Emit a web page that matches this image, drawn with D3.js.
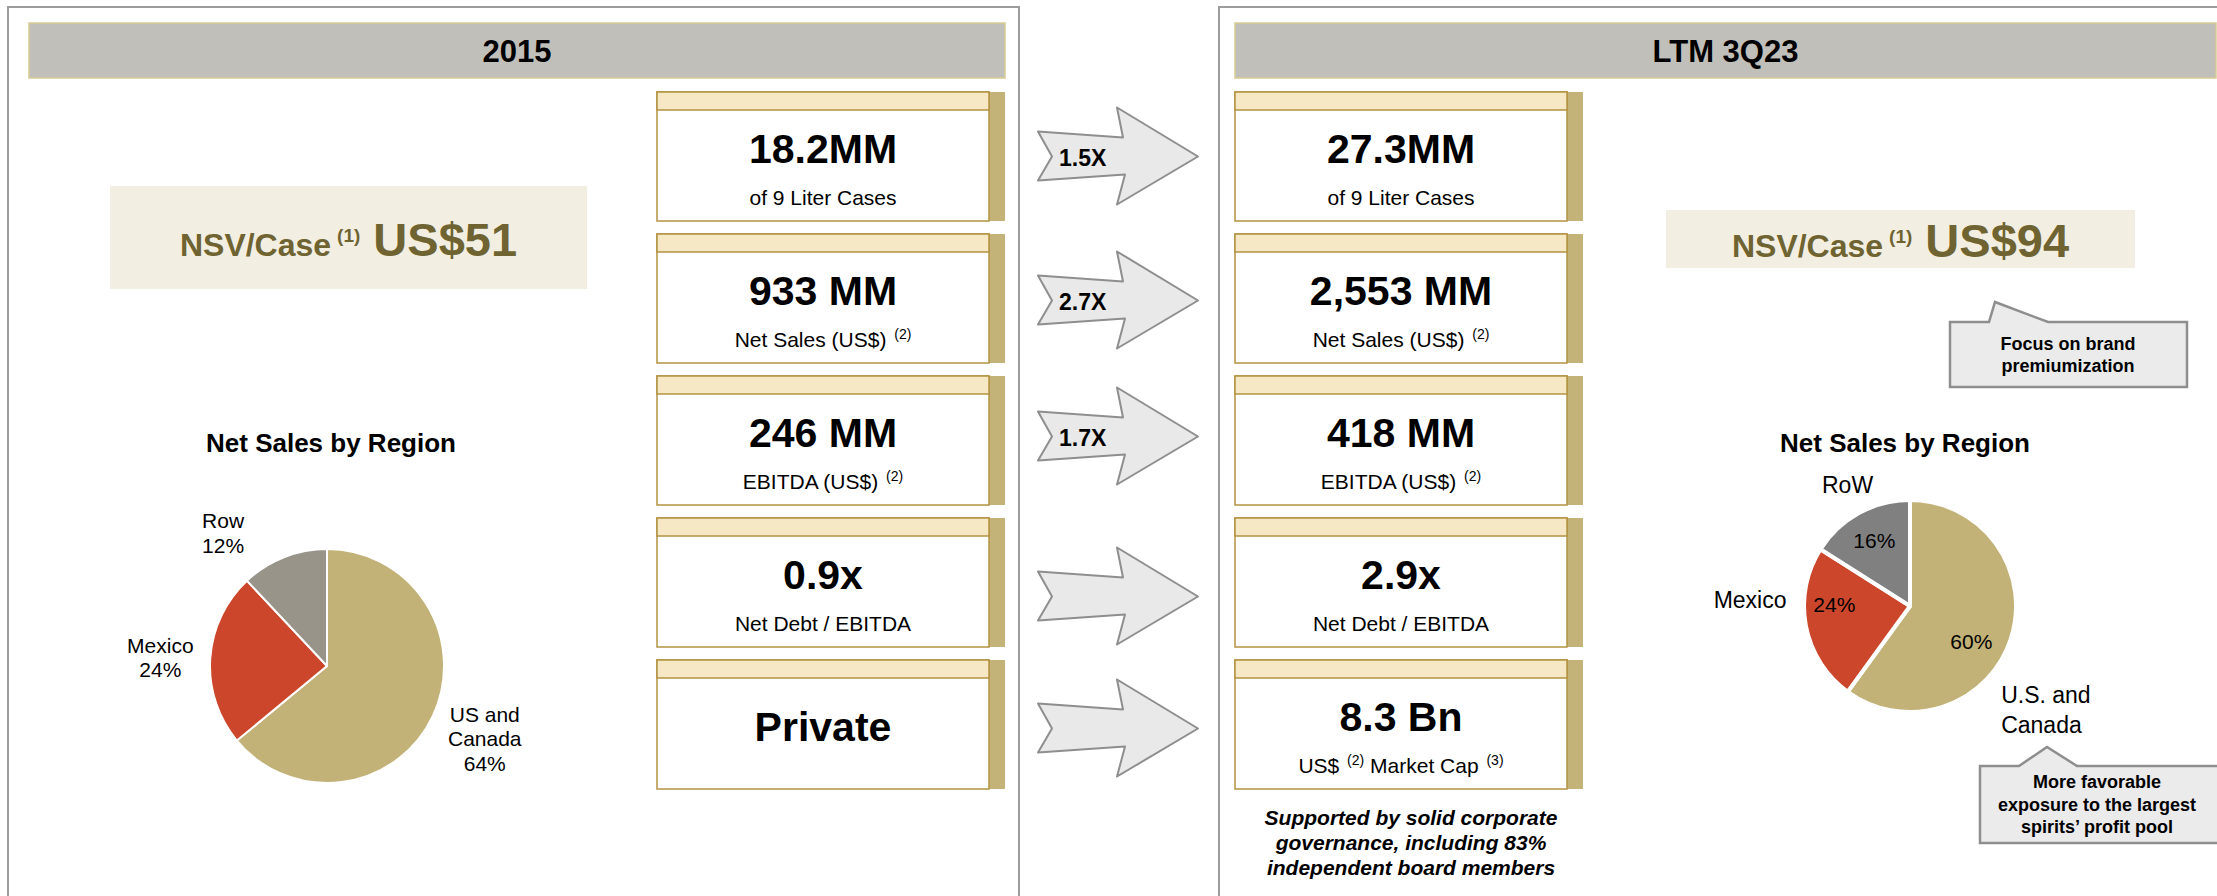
<!DOCTYPE html>
<html>
<head>
<meta charset="utf-8">
<script src="https://cdn.jsdelivr.net/npm/d3@7"></script>
<style>
  body { margin: 0; background: #fff; }
  svg { display: block; font-family: "Liberation Sans", Arial, sans-serif; }
  text { white-space: pre; }
</style>
</head>
<body>
<svg id="chart"></svg>
<script>
// ---- data ----
const periods = ["2015", "LTM 3Q23"];
const nsvPerCase = ["US$51", "US$94"];
const values2015 = ["18.2MM", "933 MM", "246 MM", "0.9x", "Private"];
const valuesLTM = ["27.3MM", "2,553 MM", "418 MM", "2.9x", "8.3 Bn"];
const captions2015 = ["of 9 Liter Cases", "Net Sales (US$) {2}", "EBITDA (US$) {2}", "Net Debt / EBITDA", ""];
const captionsLTM = ["of 9 Liter Cases", "Net Sales (US$) {2}", "EBITDA (US$) {2}", "Net Debt / EBITDA", "US$ {2} Market Cap {3}"];
const multiples = ["1.5X", "2.7X", "1.7X", "", ""];
const regions2015 = ["US and Canada", "Mexico", "Row"];
const shares2015 = [64, 24, 12];
const regionsLTM = ["U.S. and Canada", "Mexico", "RoW"];
const sharesLTM = [60, 24, 16];
const callouts = [
  ["Focus on brand", "premiumization"],
  ["More favorable", "exposure to the largest", "spirits\u2019 profit pool"]
];
const governanceNote = ["Supported by solid corporate", "governance, including 83%", "independent board members"];

// ---- look ----
const W = 2217, H = 896;
const C = {
  olive: "#6f6331", gold: "#b39342", khaki: "#c3b378", beige: "#f6e8c5",
  header: "#c0bfba", headerLine: "#d8cb94", panelLine: "#9c9c9c", nsvFill: "#f2efe2",
  arrowFill: "#e9e9e9", arrowLine: "#8e8e8e", calloutFill: "#ebebeb", calloutLine: "#8e8e8e"
};
const pieColors = [["#c2b277", "#cc462b", "#98948a"], ["#c2b277", "#cc462b", "#808080"]];

const svg = d3.select("#chart").attr("width", W).attr("height", H);

// rows of metric boxes
const y = d3.scaleBand().domain(d3.range(values2015.length)).range([92, 789]).paddingInner(13 / 142);
const boxW = 332, sideW = 16, stripH = 18;

const panels = [
  { border: [8, 1019], header: [29, 1005], boxX: 657, nsv: [110, 186, 477, 103], nsvBase: 256,
    values: values2015, captions: captions2015,
    pie: { cx: 327, cy: 666, r: 117, gap: 2, title: 331, regions: regions2015, shares: shares2015,
           outerR: 160, nudge: [[13, 4], [-7, 1], [-45, 15]], anchor: ["middle", "middle", "middle"],
           lh: 24.5, withPct: true } },
  { border: [1219, 2230], header: [1235, 2216], boxX: 1235, nsv: [1666, 210, 469, 58], nsvBase: 257,
    values: valuesLTM, captions: captionsLTM,
    pie: { cx: 1910, cy: 606, r: 106, gap: 4, title: 1905, regions: regionsLTM, shares: sharesLTM,
           outerR: 140, nudge: [[-42, 61], [14, -32], [5, 2]], anchor: ["start", "end", "middle"],
           innerNudge: [[-9, 13], [-3, -15], [0, 0]],
           lh: 30, withPct: false } }
];

panels.forEach((p, k) => {
  const g = svg.append("g");

  // panel frame
  g.append("path")
    .attr("d", `M${p.border[0]},${H} V7 H${p.border[1]} V${H}`)
    .attr("fill", "none").attr("stroke", C.panelLine).attr("stroke-width", 2);

  // header
  g.append("rect")
    .attr("x", p.header[0]).attr("y", 23)
    .attr("width", p.header[1] - p.header[0]).attr("height", 55)
    .attr("fill", C.header).attr("stroke", C.headerLine).attr("stroke-width", 1.5);
  g.append("text")
    .attr("x", (p.header[0] + p.header[1]) / 2).attr("y", 62)
    .attr("text-anchor", "middle").attr("font-size", 31).attr("font-weight", "bold")
    .text(periods[k]);

  // NSV per case
  g.append("rect")
    .attr("x", p.nsv[0]).attr("y", p.nsv[1]).attr("width", p.nsv[2]).attr("height", p.nsv[3])
    .attr("fill", C.nsvFill);
  const nt = g.append("text")
    .attr("x", p.nsv[0] + p.nsv[2] / 2).attr("y", p.nsvBase)
    .attr("text-anchor", "middle").attr("font-weight", "bold").attr("fill", C.olive);
  nt.append("tspan").attr("font-size", 32).text("NSV/Case");
  nt.append("tspan").attr("font-size", 19).attr("dx", 6).attr("dy", -14).text("(1)");
  nt.append("tspan").attr("font-size", 47).attr("dx", 13).attr("dy", 14).text(nsvPerCase[k]);

  // metric boxes
  const rows = g.selectAll("g.box")
    .data(p.values.map((v, i) => ({ v, c: p.captions[i], i })))
    .join("g")
    .attr("class", "box")
    .attr("transform", d => `translate(${p.boxX},${y(d.i)})`);
  rows.append("rect").attr("x", boxW).attr("width", sideW).attr("height", y.bandwidth())
    .attr("fill", C.khaki);
  rows.append("rect").attr("width", boxW).attr("height", y.bandwidth())
    .attr("fill", "#fff").attr("stroke", C.gold).attr("stroke-width", 1.5);
  rows.append("rect").attr("width", boxW).attr("height", stripH)
    .attr("fill", C.beige).attr("stroke", C.gold).attr("stroke-width", 1.5);
  rows.append("text")
    .attr("x", boxW / 2).attr("y", d => d.c ? 71 : 81)
    .attr("text-anchor", "middle").attr("font-size", 41).attr("font-weight", "bold")
    .text(d => d.v);
  rows.filter(d => d.c).append("text")
    .attr("x", boxW / 2).attr("y", 113)
    .attr("text-anchor", "middle").attr("font-size", 21)
    .each(function (d) {
      const t = d3.select(this);
      let raised = false;
      d.c.split(/(\{\d\})/).forEach(part => {
        const m = part.match(/^\{(\d)\}$/);
        if (m) {
          t.append("tspan").attr("font-size", 14).attr("dx", 2).attr("dy", -8).text(`(${m[1]})`);
          raised = true;
        } else if (part) {
          t.append("tspan").attr("dy", raised ? 8 : 0).text(part);
          raised = false;
        }
      });
    });

  // pie of net sales by region
  const pc = p.pie;
  g.append("text")
    .attr("x", pc.title).attr("y", 452)
    .attr("text-anchor", "middle").attr("font-size", 26).attr("font-weight", "bold")
    .text("Net Sales by Region");
  const arcs = d3.pie().sort(null).value(d => d)(pc.shares);
  const arc = d3.arc().innerRadius(0).outerRadius(pc.r);
  const pg = g.append("g").attr("transform", `translate(${pc.cx},${pc.cy})`);
  pg.selectAll("path").data(arcs).join("path")
    .attr("d", arc)
    .attr("fill", (d, i) => pieColors[k][i])
    .attr("stroke", "#fff").attr("stroke-width", pc.gap).attr("stroke-linejoin", "round");

  const outer = d3.arc().innerRadius(pc.outerR).outerRadius(pc.outerR);
  const inner = d3.arc().innerRadius(74).outerRadius(74);
  arcs.forEach((a, i) => {
    const name = pc.regions[i];
    const lines = name.includes(" and ") ? [name.replace(/ Canada$/, ""), "Canada"] : [name];
    if (pc.withPct) lines.push(pc.shares[i] + "%");
    const [ox, oy] = outer.centroid(a);
    const lx = ox + pc.nudge[i][0], ly = oy + pc.nudge[i][1];
    const first = ly - (lines.length - 1) * pc.lh / 2 + 8;
    const fs = pc.withPct ? 21 : 23;
    pg.append("text")
      .attr("text-anchor", pc.anchor[i]).attr("font-size", fs)
      .selectAll("tspan").data(lines).join("tspan")
      .attr("x", lx).attr("y", (d, j) => first + j * pc.lh)
      .text(d => d);
    if (!pc.withPct) {
      const [ix, iy] = inner.centroid(a);
      pg.append("text")
        .attr("x", ix + pc.innerNudge[i][0]).attr("y", iy + 7 + pc.innerNudge[i][1])
        .attr("text-anchor", "middle").attr("font-size", 21)
        .text(pc.shares[i] + "%");
    }
  });
});

// growth arrows between the panels
const arrowShift = [0, 2, -4, 14, 4];
const arrowPts = [[0, -25], [85, -19], [79, -49], [160, 0], [79, 48], [87, 18], [0, 24], [14, 0]];
const arrows = svg.selectAll("g.arrow").data(multiples).join("g")
  .attr("class", "arrow")
  .attr("transform", (d, i) => `translate(1038,${y(i) + y.bandwidth() / 2 + arrowShift[i]})`);
arrows.append("path")
  .attr("d", d3.line()(arrowPts) + "Z")
  .attr("fill", C.arrowFill).attr("stroke", C.arrowLine).attr("stroke-width", 2)
  .attr("stroke-linejoin", "round");
arrows.append("text")
  .attr("x", 21).attr("y", 9)
  .attr("font-size", 23).attr("font-weight", "bold")
  .text(d => d);

// note under the LTM boxes
svg.append("text")
  .attr("text-anchor", "middle").attr("font-size", 21)
  .attr("font-weight", "bold").attr("font-style", "italic")
  .selectAll("tspan").data(governanceNote).join("tspan")
  .attr("x", 1411).attr("y", (d, i) => 825 + i * 25)
  .text(d => d);

// callouts
const calloutBoxes = [
  { x0: 1950, y0: 322, x1: 2187, y1: 387, tip: [[1989, 322], [1995, 302], [2048, 322]], base: 350, lh: 22 },
  { x0: 1980, y0: 766, x1: 2240, y1: 843, tip: [[2019, 766], [2047, 747], [2077, 766]], base: 788, lh: 22.5 }
];
calloutBoxes.forEach((b, k) => {
  const pts = [[b.x0, b.y0], b.tip[0], b.tip[1], b.tip[2], [b.x1, b.y0], [b.x1, b.y1], [b.x0, b.y1]];
  svg.append("path")
    .attr("d", d3.line()(pts) + "Z")
    .attr("fill", C.calloutFill).attr("stroke", C.calloutLine).attr("stroke-width", 2.5);
  const cx = k === 0 ? 2068 : 2097;
  svg.append("text")
    .attr("text-anchor", "middle").attr("font-size", 18).attr("font-weight", "bold")
    .selectAll("tspan").data(callouts[k]).join("tspan")
    .attr("x", cx).attr("y", (d, i) => b.base + i * b.lh)
    .text(d => d);
});
</script>
</body>
</html>
